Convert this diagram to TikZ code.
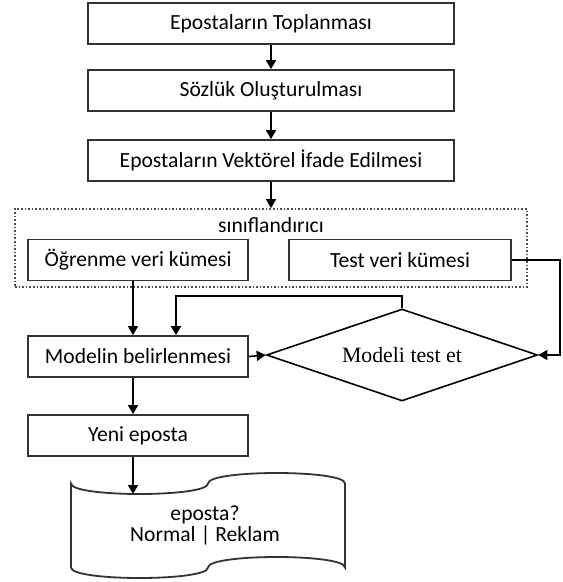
\documentclass[tikz,border=0pt]{standalone}
\usepackage{fontspec}
\setmainfont{Carlito}
\newfontfamily\timesfont{Liberation Serif}
\usetikzlibrary{arrows.meta,calc,shapes.geometric}

\begin{document}
\begin{tikzpicture}[x=0.5pt,y=-0.5pt,
	box/.style={draw=black!80, line width=0.9pt, minimum height=20.5pt, inner sep=0pt,
		font=\fontsize{10.8}{12}\selectfont},
	wide/.style={box, minimum width=183pt},
	half/.style={box, minimum width=110pt},
	conn/.style={draw=black, line width=0.8pt, -{Triangle[length=4.5pt,width=5pt]}}]

	% ---- page

	\useasboundingbox (0,0) rectangle (562,582);

	% ---- coordinates

	\coordinate (sag) at (560,258);
	\coordinate (geri) at (176,296);
	\coordinate (bantgiris) at (133,494);

	% ---- preparation steps

	\node[wide] (toplama) at (271,23.5) {Epostaların Toplanması};
	\node[wide] (sozluk) at (271,90.5) {Sözlük Oluşturulması};
	\node[wide] (vektor) at (271,160.5) {Epostaların Vektörel İfade Edilmesi};

	% ---- classifier group

	\node[draw=black!70, densely dotted, line width=0.8pt, minimum width=256pt,
		minimum height=39pt, inner sep=0pt] (sinif) at (271,248) {};
	\node[font=\fontsize{10.8}{12}\selectfont] (sinifad) at (271,225) {sınıflandırıcı};

	\node[half] (ogrenme) at (138,260) {Öğrenme veri kümesi};
	\node[half, minimum width=111pt] (testkume) at (400,260) {Test veri kümesi};

	% ---- model

	\node[half] (model) at (138,356.5) {Modelin belirlenmesi};
	\node[diamond, draw=black, line width=0.8pt, shape aspect=2.95, inner sep=0pt,
		minimum width=135.5pt, minimum height=46pt,
		font=\timesfont\fontsize{10.9}{13}\selectfont] (testet) at (402,355) {Modeli test et};

	\node[half] (yeni) at (138,435.5) {Yeni eposta};

	% ---- result tape

	\draw[black!80, line width=0.9pt]
		(71,483.5) .. controls (71,497.5) and (208,497.5) .. (208,483.5)
		.. controls (208,469.5) and (345,469.5) .. (345,483.5)
		-- (345,567.5) .. controls (345,553.5) and (208,553.5) .. (208,567.5)
		.. controls (208,581.5) and (71,581.5) .. (71,567.5) -- cycle;
	\node[align=center, font=\fontsize{10.8}{10.5}\selectfont] (bant) at (205,525)
		{eposta?\\Normal | Reklam};

	% ---- arrows

	\draw[conn] (toplama) -- (sozluk);
	\draw[conn] (sozluk) -- (vektor);
	\draw[conn] (vektor) -- (sinif);

	\draw[conn] ([xshift=-2.5pt]ogrenme.south) -- ([xshift=-2.5pt]model.north);
	\draw[conn] (testkume.east) -| (sag |- testet.east) -- (testet.east);
	\draw[conn] (testet.north) |- (geri) -- (geri |- model.north);
	\draw[conn] (model.east) -- (testet.west);

	\draw[conn] ([xshift=-2.5pt]model.south) -- ([xshift=-2.5pt]yeni.north);
	\draw[conn] ([xshift=-2.5pt]yeni.south) -- (bantgiris);

\end{tikzpicture}
\end{document}
